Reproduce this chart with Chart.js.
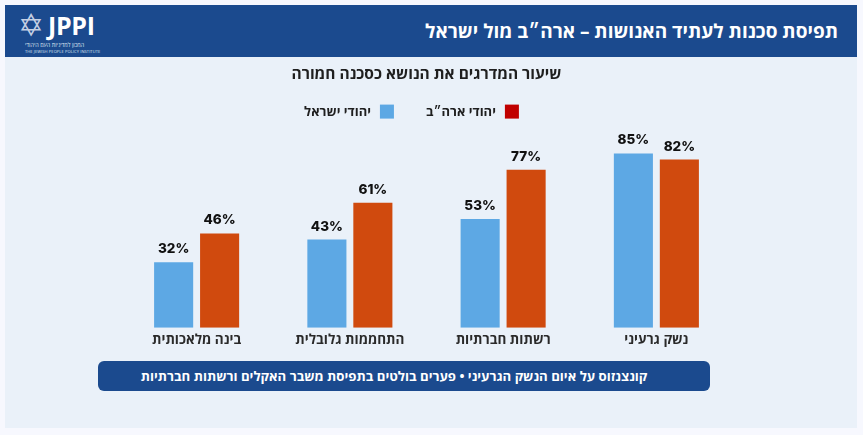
<!DOCTYPE html>
<html lang="he">
<head>
<meta charset="utf-8">
<script src="https://cdn.jsdelivr.net/npm/chart.js@4.4.1/dist/chart.umd.min.js"></script>
<style>
  html, body { margin: 0; padding: 0; background: #f7f8fe; }
  body { width: 863px; height: 435px; position: relative; overflow: hidden;
         font-family: "Open Sans", "Liberation Sans", "DejaVu Sans", sans-serif; }
  .panel { position: absolute; left: 5px; top: 5px; width: 852px; height: 423px; background: #eaf1f9; }
  .header { position: absolute; left: 0; top: 0; width: 852px; height: 52px; background: #1b4a8e; }
  .header .title { position: absolute; right: 19px; top: 13px; color: #fff; font-weight: 700;
                   font-size: 19px; direction: rtl; white-space: nowrap; line-height: 26px; }
  .logo { position: absolute; left: 14px; top: 4px; width: 84px; height: 46px; color: #fff; }
  .logo .star { position: absolute; left: -1px; top: 0; font-size: 31px; line-height: 32px; color: #c3cfe3;
                font-family: "DejaVu Sans", sans-serif; }
  .logo .name { position: absolute; left: 29px; top: 1px; font-size: 25px; font-weight: 700; line-height: 30px;
                letter-spacing: -0.3px; font-family: "Open Sans", sans-serif; }
  .logo .he { position: absolute; left: 6px; top: 33px; font-size: 5.5px; line-height: 6px; direction: rtl;
              width: 78px; text-align: left; color: #dfe6f1; white-space: nowrap; }
  .logo .en { position: absolute; left: 6px; top: 40px; font-size: 4px; line-height: 5px; color: #dfe6f1;
              white-space: nowrap; letter-spacing: 0.1px; }
  #wrap { position: absolute; left: 0; top: 52px; width: 852px; height: 298px; }
  .banner { position: absolute; left: 93px; top: 356px; width: 592px; height: 30px; padding-right: 20px;
            background: #1b4a8e; border-radius: 6px; color: #fff; font-weight: 700; font-size: 13.2px;
            line-height: 30px; text-align: center; direction: rtl; white-space: nowrap; }
</style>
</head>
<body>
<div class="panel">
  <div class="header">
    <div class="logo">
      <div class="star">✡</div>
      <div class="name">JPPI</div>
      <div class="he">המכון למדיניות העם היהודי</div>
      <div class="en">THE JEWISH PEOPLE POLICY INSTITUTE</div>
    </div>
    <div class="title">תפיסת סכנות לעתיד האנושות – ארה״ב מול ישראל</div>
  </div>
  <div id="wrap"><canvas id="chart"></canvas></div>
  <div class="banner">קונצנזוס על איום הנשק הגרעיני • פערים בולטים בתפיסת משבר האקלים ורשתות חברתיות</div>
</div>

<script>
// Data (left to right on screen)
const categories = ["בינה מלאכותית", "התחממות גלובלית", "רשתות חברתיות", "נשק גרעיני"];
const israelValues = [32, 43, 53, 85];
const usValues = [46, 61, 77, 82];
const seriesNames = ["יהודי ישראל", "יהודי ארה״ב"];
const subtitle = "שיעור המדרגים את הנושא כסכנה חמורה";

const hebFont = '"Open Sans", "Liberation Sans", "DejaVu Sans", sans-serif';
const barColors = ["#5da8e4", "#d04a0e"];
const legendColors = ["#5da8e4", "#c00000"];

// Percent labels drawn above every bar
const valueLabels = {
    id: "valueLabels",
    afterDatasetsDraw(chart) {
        const ctx = chart.ctx;
        ctx.save();
        ctx.font = '800 13.5px Inter, "Open Sans", sans-serif';
        ctx.fillStyle = "#111";
        ctx.textAlign = "center";
        ctx.textBaseline = "middle";
        chart.data.datasets.forEach((ds, i) => {
            chart.getDatasetMeta(i).data.forEach((bar, j) => {
                ctx.fillText(ds.data[j] + "%", bar.x, bar.y - 13);
            });
        });
        ctx.restore();
    }
};

// RTL legend (right to left, wider gap between items than the built-in one allows)
const rtlLegend = {
    id: "rtlLegend",
    afterDraw(chart) {
        const ctx = chart.ctx;
        const area = chart.chartArea;
        const y = area.top - 11;
        const box = 14, gap = 9, itemGap = 32;
        ctx.save();
        ctx.font = "bold 13px " + hebFont;
        ctx.textBaseline = "middle";
        ctx.direction = "rtl";
        const items = chart.data.datasets.map((ds, i) => ({ text: ds.label, color: legendColors[i] })).reverse();
        const widths = items.map(it => box + gap + ctx.measureText(it.text).width);
        const total = widths.reduce((a, b) => a + b, 0) + itemGap * (items.length - 1);
        let right = (area.left + area.right) / 2 - 15 + total / 2;
        items.forEach((it, k) => {
            ctx.fillStyle = it.color;
            ctx.fillRect(right - box, y - box / 2, box, box);
            ctx.fillStyle = "#1f1f1f";
            ctx.textAlign = "right";
            ctx.fillText(it.text, right - box - gap, y + 1);
            right -= widths[k] + itemGap;
        });
        ctx.restore();
    }
};

document.addEventListener("DOMContentLoaded", () => {
    const ctx = document.getElementById("chart").getContext("2d");
    new Chart(ctx, {
        type: "bar",
        data: {
            labels: categories,
            datasets: [
                { label: seriesNames[0], data: israelValues, backgroundColor: barColors[0] },
                { label: seriesNames[1], data: usValues, backgroundColor: barColors[1] }
            ]
        },
        options: {
            responsive: true,
            maintainAspectRatio: false,
            animation: false,
            categoryPercentage: 0.6,
            barPercentage: 0.85,
            layout: { padding: { left: 115, right: 124, top: 0, bottom: 3 } },
            plugins: {
                tooltip: { enabled: false },
                legend: { display: false },
                title: {
                    display: true,
                    text: subtitle,
                    color: "#1f1f1f",
                    font: { family: hebFont, size: 15.5, weight: "bold" },
                    padding: { top: 8, bottom: 39 }
                }
            },
            scales: {
                x: {
                    grid: { display: false, drawTicks: false },
                    border: { display: false },
                    ticks: {
                        color: "#2a2a2a",
                        padding: 4,
                        font: { family: hebFont, size: 13.5, weight: "bold" }
                    }
                },
                y: { display: false, min: 0, max: 100 }
            }
        },
        plugins: [valueLabels, rtlLegend]
    });
});
</script>
</body>
</html>
